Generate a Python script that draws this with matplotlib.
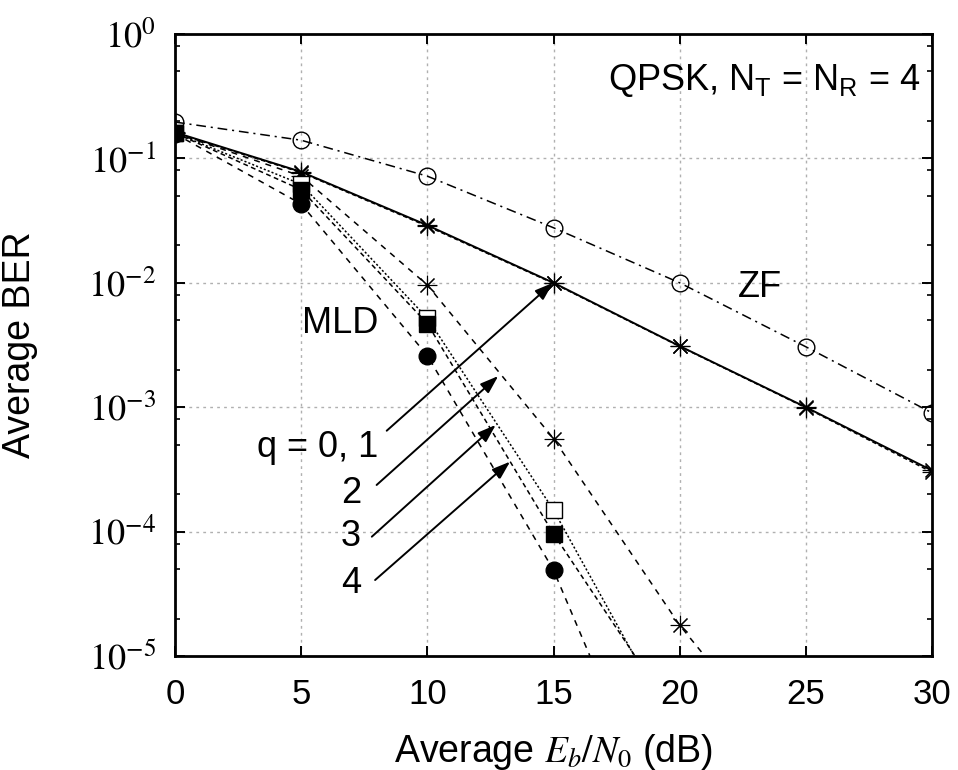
import numpy as np
import matplotlib
matplotlib.use("Agg")
import matplotlib.pyplot as plt
from matplotlib.ticker import LogLocator, FuncFormatter, NullFormatter, FixedLocator

plt.rcParams['font.family'] = ['Liberation Sans', 'DejaVu Sans']
plt.rcParams['mathtext.fontset'] = 'stix'
plt.rcParams['lines.scale_dashes'] = False

# ---- data ----
snr_zf = [0, 5, 10, 15, 20, 25, 30]
ber_zf = [0.196, 0.14, 0.072, 0.0277, 0.0100, 0.00306, 0.00090]

snr_q01 = [0, 5, 10, 15, 20, 25, 30]
ber_q0 = [0.162, 0.078, 0.0290, 0.0100, 0.00310, 0.00100, 0.00031]
ber_q1 = [0.160, 0.077, 0.0285, 0.0099, 0.00308, 0.00099, 0.00030]

snr_q2 = [0, 5, 10, 15, 20, 25]
ber_q2 = [0.160, 0.072, 0.0096, 0.00056, 1.77e-5, 1.0e-6]

snr_q34 = [0, 5, 10, 15, 20]
ber_q3 = [0.160, 0.062, 0.0052, 0.000149, 2.2e-6]
ber_q4 = [0.160, 0.056, 0.0047, 9.6e-5, 2.9e-6]

snr_mld = [0, 5, 10, 15, 20]
ber_mld = [0.158, 0.043, 0.0026, 4.9e-5, 2.0e-7]

xticks = [0, 5, 10, 15, 20, 25, 30]

# arrows: labels, text positions, tails, heads (data coords)
arrow_labels = ["q = 0, 1", "2", "3", "4"]
arrow_text_xy = [(8.05, 4.7e-4), (7.0, 2.04e-4), (6.96, 9.05e-5), (7.0, 3.8e-5)]
arrow_tail = [(8.39, 6.47e-4), (7.99, 2.37e-4), (7.80, 9.1e-5), (7.93, 4.08e-5)]
arrow_head = [(14.98, 1.0e-2), (12.81, 1.78e-3), (12.71, 7.2e-4), (13.28, 3.65e-4)]

# ---- figure ----
fig = plt.figure(figsize=(9.58, 7.70), dpi=100)
ax = fig.add_axes([175/958, 1-656/770, (932-175)/958, (656-34)/770])

lw = 1.1
ms = 12
k = 'black'
star = (8, 2, 0)

# ZF
ax.plot(snr_zf, ber_zf, color=k, lw=lw, dashes=(7, 3.5, 1.5, 3.5),
        marker='o', ms=ms, mfc='none', mec=k, mew=1.0, zorder=3)
# q = 0 (solid) and q = 1 (dashed overlay)
ax.plot(snr_q01, ber_q0, color=k, lw=lw + 0.3, ls='-',
        marker=star, ms=ms + 2, mec=k, mew=0.8, zorder=3)
ax.plot(snr_q01, ber_q1, color=k, lw=lw, dashes=(3, 2),
        marker=star, ms=ms + 2, mec=k, mew=0.8, zorder=3)
# q = 2
ax.plot(snr_q2, ber_q2, color=k, lw=lw, dashes=(4.3, 4.3),
        marker=star, ms=ms + 2, mec=k, mew=0.8, zorder=3)
# q = 3 (open squares, dotted)
ax.plot(snr_q34, ber_q3, color=k, lw=lw, dashes=(1.5, 1.5),
        marker='s', ms=ms - 0.5, mfc='white', mec=k, mew=1.0, zorder=4)
# q = 4 (filled squares, dashed)
ax.plot(snr_q34, ber_q4, color=k, lw=lw, dashes=(3.5, 2.5),
        marker='s', ms=ms - 0.5, mfc=k, mec=k, mew=1.0, zorder=5)
# MLD (filled circles, dashed)
ax.plot(snr_mld, ber_mld, color=k, lw=lw, dashes=(4.3, 4.3),
        marker='o', ms=ms, mfc=k, mec=k, mew=1.0, zorder=5)

ax.set_xlim(0, 30)
ax.set_ylim(1e-5, 1)
ax.set_yscale('log')
ax.xaxis.set_major_locator(FixedLocator(xticks))
ax.yaxis.set_major_locator(LogLocator(base=10, numticks=10))
ax.yaxis.set_minor_locator(LogLocator(base=10, subs=[2, 5, 8], numticks=10))
ax.yaxis.set_minor_formatter(NullFormatter())
ax.yaxis.set_major_formatter(FuncFormatter(
    lambda v, p: r'$10^{%d}$' % int(round(np.log10(v)))))

ax.tick_params(axis='both', which='both', direction='in', top=True, right=True)
ax.tick_params(axis='both', which='major', length=7, width=1.4)
ax.tick_params(axis='y', which='minor', length=3.5, width=1.2)
ax.tick_params(axis='x', which='major', labelsize=25, pad=16)
ax.tick_params(axis='y', which='major', labelsize=26, pad=14)
for sp in ax.spines.values():
    sp.set_linewidth(2.0)

ax.grid(True, which='major', color='#b0b0b0', linestyle=(0, (2, 3)), lw=1.0)
ax.set_axisbelow(True)

ax.set_xlabel(r'Average $E_b/N_0$ (dB)', fontsize=27, va='baseline')
ax.xaxis.set_label_coords(0.5, -0.170)
ax.set_ylabel('Average BER', fontsize=27, va='center')
ax.yaxis.set_label_coords(-0.205, 0.50)

ax.text(0.985, 0.925, r'QPSK, N$\mathregular{_T}$ = N$\mathregular{_R}$ = 4',
        transform=ax.transAxes, ha='right', va='center', fontsize=26)
ax.text(23.2, 9.25e-3, 'ZF', ha='center', va='center', fontsize=26)
ax.text(6.54, 4.75e-3, 'MLD', ha='center', va='center', fontsize=26)

for i, lab in enumerate(arrow_labels):
    tx, ty = arrow_text_xy[i]
    ha = 'right' if i == 0 else 'center'
    ax.text(tx, ty, lab, ha=ha, va='center', fontsize=26)
    ax.annotate('', xy=arrow_head[i], xytext=arrow_tail[i],
                arrowprops=dict(arrowstyle='-|>,head_length=1.1,head_width=0.38',
                                color=k, lw=1.4, shrinkA=0, shrinkB=0),
                zorder=6)

fig.savefig('out.png', dpi=100)
